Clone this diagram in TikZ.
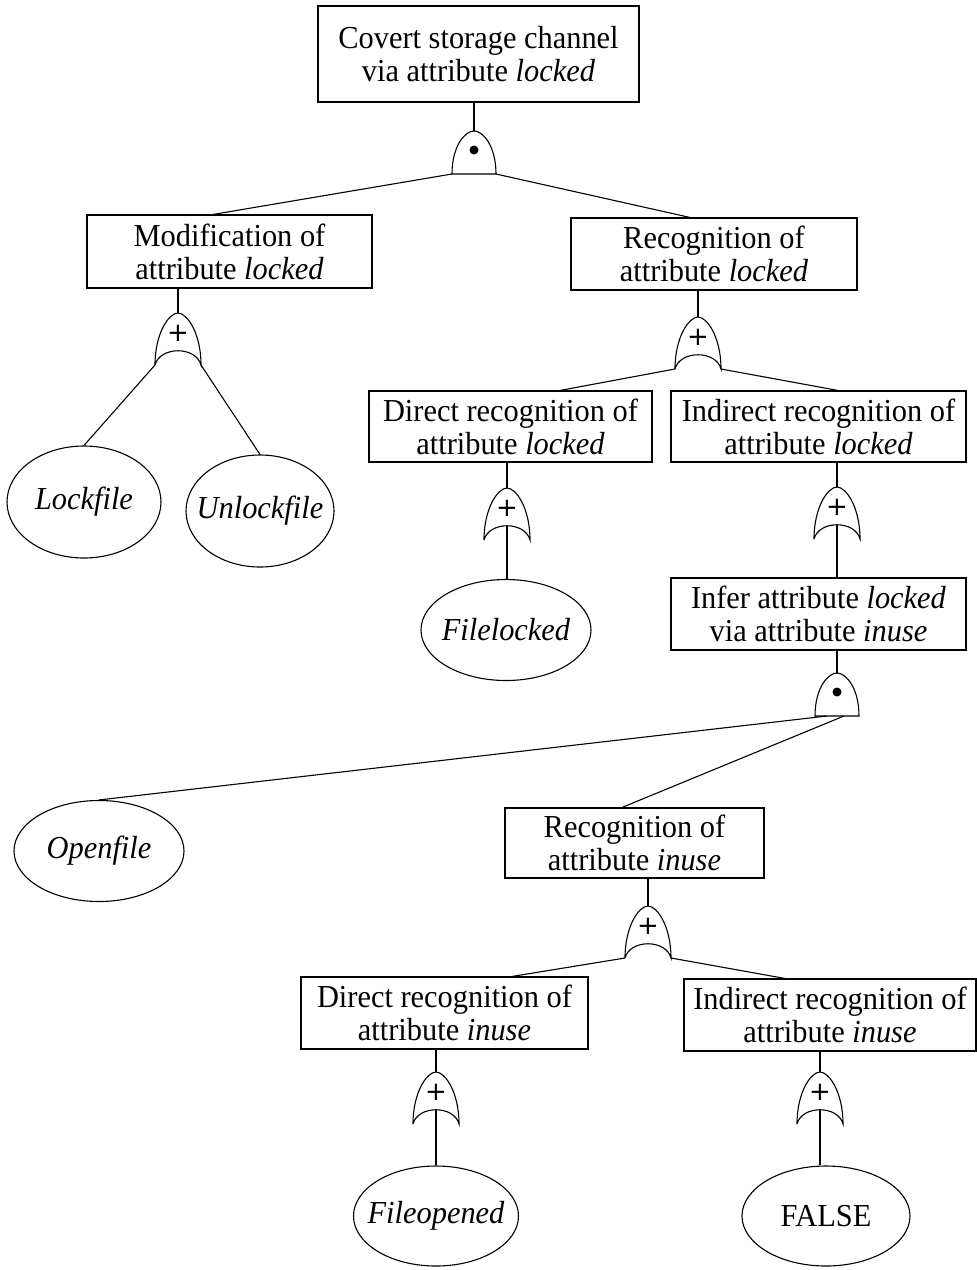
\documentclass[tikz,border=0pt]{standalone}
\usepackage{fontspec}
\setmainfont{Liberation Serif}[FakeStretch=0.95]
\newfontfamily\symfont{DejaVu Sans}
\usetikzlibrary{shapes.geometric}
\tikzset{
  line/.style={line width=1.1pt},
  box/.style={draw, line width=1.1pt, inner sep=0pt, align=center, font=\fontsize{32}{33}\selectfont},
  leaf/.style={draw, ellipse, line width=1.1pt, inner sep=0pt},
  leaftext/.style={font=\fontsize{32}{33}\selectfont\itshape},
  gate/.style={line width=1.1pt},
  plus/.style={inner sep=0pt, font=\fontsize{26}{28}\symfont}
}
\newcommand\orgate[3]{%
  \coordinate (#1t) at (#2,#3);
  \coordinate (#1l) at (#2-23,#3+52);
  \coordinate (#1r) at (#2+23,#3+52);
  \coordinate (#1c) at (#2,#3+38);
  \draw[gate] (#1l) .. controls +(0,-32) and +(-9,0) .. (#1t)
     .. controls +(9,0) and +(0,-32) .. (#1r)
     .. controls +(-5,-19) and +(5,-19) .. (#1l);
  \node[plus] (#1p) at (#2,#3+20) {+};
}
\newcommand\andgate[3]{%
  \coordinate (#1t) at (#2,#3);
  \coordinate (#1l) at (#2-22,#3+43);
  \coordinate (#1r) at (#2+22,#3+43);
  \coordinate (#1b) at (#2,#3+43);
  \draw[gate] (#1l) .. controls +(0,-28) and +(-9,0) .. (#1t)
     .. controls +(9,0) and +(0,-28) .. (#1r) -- cycle;
  \fill (#2,#3+19) circle (4.5);
}
\begin{document}
\begin{tikzpicture}[x=1pt,y=-1pt]
\useasboundingbox (0,0) rectangle (977,1270);
% boxes
\node[box, minimum width=321, minimum height=96] (top) at (478.5,54) {Covert storage channel\\via attribute \textit{locked}};
\node[box, minimum width=285, minimum height=73] (mod) at (229.5,251.5) {Modification of\\attribute \textit{locked}};
\node[box, minimum width=286, minimum height=72] (rec) at (714,254) {Recognition of\\attribute \textit{locked}};
\node[box, minimum width=283, minimum height=71] (dir) at (510.5,426.5) {Direct recognition of\\attribute \textit{locked}};
\node[box, minimum width=295, minimum height=71] (ind) at (818.5,426.5) {Indirect recognition of\\attribute \textit{locked}};
\node[box, minimum width=295, minimum height=72] (infer) at (818.5,614) {Infer attribute \textit{locked}\\via attribute \textit{inuse}};
\node[box, minimum width=259, minimum height=70] (recin) at (634.5,843) {Recognition of\\attribute \textit{inuse}};
\node[box, minimum width=287, minimum height=72] (dirin) at (444.5,1013) {Direct recognition of\\attribute \textit{inuse}};
\node[box, minimum width=292, minimum height=72] (indin) at (830,1015) {Indirect recognition of\\attribute \textit{inuse}};
% leaves
\node[leaf, minimum width=154, minimum height=112, label={[leaftext]center:Lockfile}] (lock) at (84,502) {};
\node[leaf, minimum width=148, minimum height=112, label={[leaftext]center:Unlockfile}] (unlock) at (260,511) {};
\node[leaf, minimum width=170, minimum height=101, label={[leaftext]center:Filelocked}] (flock) at (506,630) {};
\node[leaf, minimum width=170, minimum height=101, label={[leaftext]center:Openfile}] (open) at (99,851) {};
\node[leaf, minimum width=165, minimum height=100, label={[leaftext]center:Fileopened}] (fopen) at (436,1216) {};
\node[leaf, minimum width=168, minimum height=100, label={[font=\fontsize{32}{33}\selectfont]center:FALSE}] (false) at (826,1216) {};
% gates
\andgate{ga}{474}{131}
\orgate{gb}{178}{313}
\orgate{gc}{698}{317}
\orgate{gd}{507}{488}
\orgate{ge}{837}{487}
\andgate{gf}{837}{673}
\orgate{gg}{648}{906}
\orgate{gh}{436}{1072}
\orgate{gi}{820}{1072}
% stems
\draw[line] (top.south -| gat) -- (gat);
\draw[line] (mod.south -| gbt) -- (gbt);
\draw[line] (rec.south -| gct) -- (gct);
\draw[line] (dir.south -| gdt) -- (gdt);
\draw[line] (gdc) -- (gdc |- flock.north);
\draw[line] (ind.south -| get) -- (get);
\draw[line] (gec) -- (gec |- infer.north);
\draw[line] (infer.south -| gft) -- (gft);
\draw[line] (recin.south -| ggt) -- (ggt);
\draw[line] (dirin.south -| ght) -- (ght);
\draw[line] (ghc) -- (ghc |- fopen.north);
\draw[line] (indin.south -| git) -- (git);
\draw[line] (gic) -- (gic |- false.north);
% branches
\draw[line] (gal) -- ([xshift=-16.5]mod.north);
\draw[line] (gar) -- ([xshift=-24]rec.north);
\draw[line] (gbl) -- (lock.north);
\draw[line] (gbr) -- (unlock.north);
\draw[line] (gcl) -- ([xshift=49.5]dir.north);
\draw[line] (gcr) -- ([xshift=19.5]ind.north);
\draw[line] ([xshift=-10]gfb) -- (open.north);
\draw[line] ([xshift=7]gfb) -- ([xshift=-12.5]recin.north);
\draw[line] (ggl) -- ([xshift=67.5]dirin.north);
\draw[line] (ggr) -- ([xshift=-45]indin.north);
\end{tikzpicture}
\end{document}
